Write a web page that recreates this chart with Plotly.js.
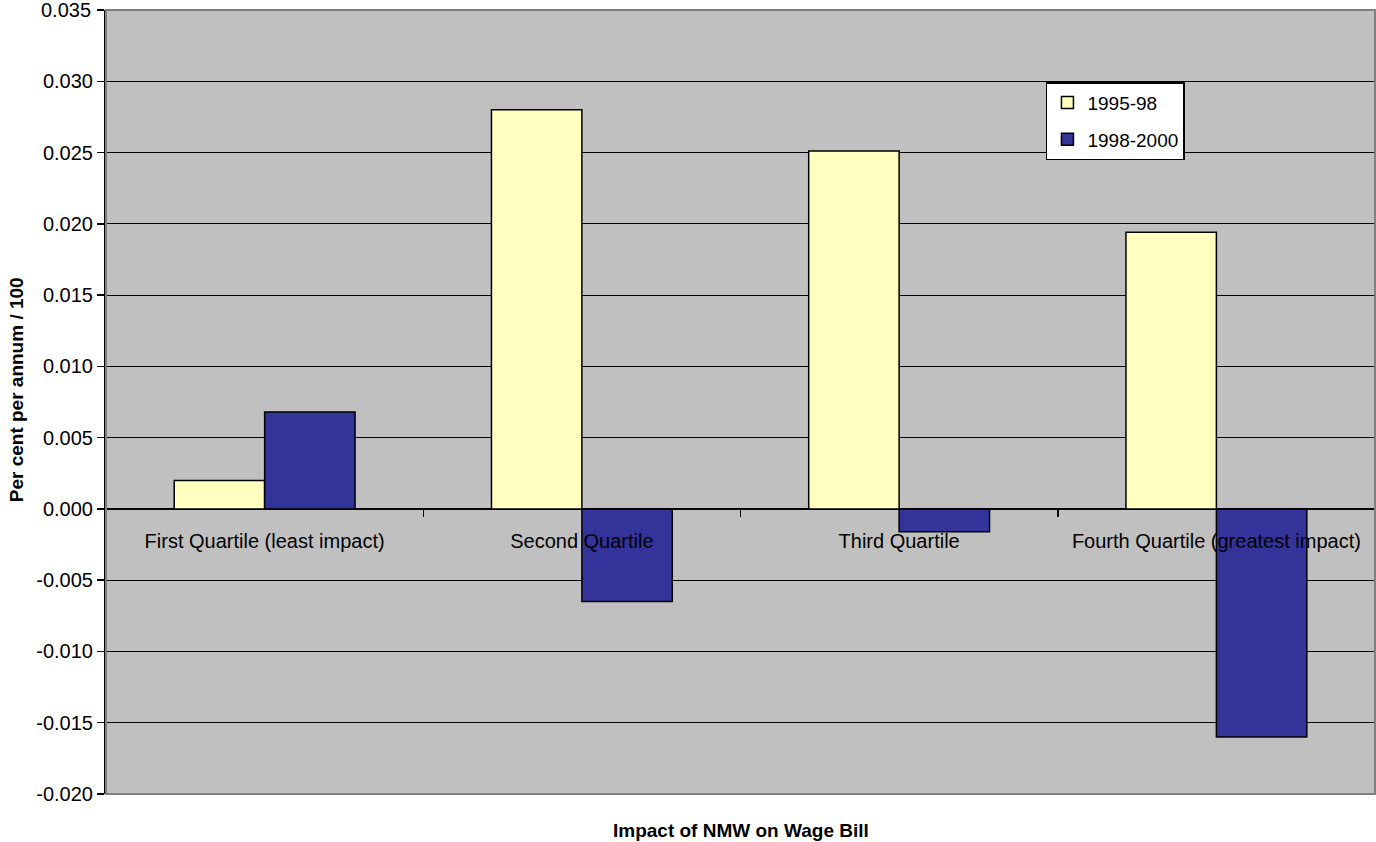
<!DOCTYPE html>
<html>
<head>
<meta charset="utf-8">
<script src="https://cdn.plot.ly/plotly-3.0.1.min.js"></script>
<style>html,body{margin:0;padding:0;background:#fff;}#chart{width:1376px;height:842px;}</style>
</head>
<body>
<div id="chart"></div>
<script>
const categories = ["First Quartile (least impact)", "Second Quartile", "Third Quartile", "Fourth Quartile (greatest impact)"];
const series1995_98 = [0.0020, 0.0280, 0.0251, 0.0194];
const series1998_2000 = [0.0068, -0.0065, -0.0016, -0.0160];
const yTickVals = [-0.020, -0.015, -0.010, -0.005, 0.000, 0.005, 0.010, 0.015, 0.020, 0.025, 0.030, 0.035];
const yTickText = ["-0.020", "-0.015", "-0.010", "-0.005", "0.000", "0.005", "0.010", "0.015", "0.020", "0.025", "0.030", "0.035"];

const FONT = "Liberation Sans, Arial, sans-serif";
const yMin = -0.020, yMax = 0.035;
const topIdx = yTickVals.length - 1;
// top label drawn as an annotation at the axis scale (Plotly drops the label at the range edge)
const axisTickText = yTickText.map((t, i) => i === topIdx ? "" : t);

const traces = [
  {type: "bar", name: "1995-98", x: categories, y: series1995_98,
   marker: {color: "#FFFFC0", line: {color: "#000000", width: 1.5}}, legendgroup: "a"},
  {type: "bar", name: "1998-2000", x: categories, y: series1998_2000,
   marker: {color: "#333399", line: {color: "#000000", width: 1.5}}, legendgroup: "b"}
];

const layout = {
  width: 1376, height: 842,
  margin: {l: 106, r: 1, t: 10, b: 48},
  paper_bgcolor: "#ffffff",
  plot_bgcolor: "#C0C0C0",
  font: {family: FONT, size: 20, color: "#000000"},
  barmode: "group",
  bargap: 0.43,
  bargroupgap: 0,
  showlegend: true,
  legend: {
    x: 0.7407, y: 0.908, xanchor: "left", yanchor: "top",
    bgcolor: "#ffffff", bordercolor: "#000000", borderwidth: 1.5,
    font: {family: FONT, size: 19, color: "#000000"},
    traceorder: "grouped", tracegroupgap: 9,
    itemwidth: 30
  },
  xaxis: {
    type: "category",
    anchor: "free",
    position: (0 - yMin) / (yMax - yMin),
    showline: true, linecolor: "#000000", linewidth: 1.5,
    ticks: "outside", ticklen: 7, tickcolor: "#000000", tickwidth: 1.5,
    tickson: "boundaries",
    ticklabelstandoff: 14,
    showgrid: false,
    tickfont: {family: FONT, size: 20, color: "#000000"}
  },
  yaxis: {
    range: [yMin, yMax],
    tickvals: yTickVals, ticktext: axisTickText,
    showline: true, linecolor: "#000000", linewidth: 2,
    ticks: "outside", ticklen: 7, tickcolor: "#000000", tickwidth: 1.5,
    showgrid: true, gridcolor: "#000000", gridwidth: 1,
    zeroline: true, zerolinecolor: "#000000", zerolinewidth: 1.5,
    tickfont: {family: FONT, size: 20, color: "#000000"}
  },
  shapes: [
    {type: "rect", xref: "paper", yref: "paper", x0: 0, x1: 1, y0: 0, y1: 1,
     line: {color: "#808080", width: 2}, fillcolor: "rgba(0,0,0,0)", layer: "above"}
  ],
  annotations: [
    {text: yTickText[topIdx], xref: "paper", yref: "y",
     x: -13 / 1269, y: yTickVals[topIdx], xanchor: "right", yanchor: "middle",
     showarrow: false, font: {family: FONT, size: 20, color: "#000000"}},
    {text: "<b>Impact of NMW on Wage Bill</b>", xref: "paper", yref: "paper",
     x: 0.5, y: -0.046, xanchor: "center", yanchor: "middle", showarrow: false,
     font: {family: FONT, size: 19, color: "#000000"}},
    {text: "<b>Per cent per annum / 100</b>", xref: "paper", yref: "paper",
     x: -0.0709, y: 0.515, xanchor: "center", yanchor: "middle", showarrow: false,
     textangle: -90,
     font: {family: FONT, size: 19, color: "#000000"}}
  ]
};

Plotly.newPlot("chart", traces, layout, {displayModeBar: false, staticPlot: true});
</script>
</body>
</html>
